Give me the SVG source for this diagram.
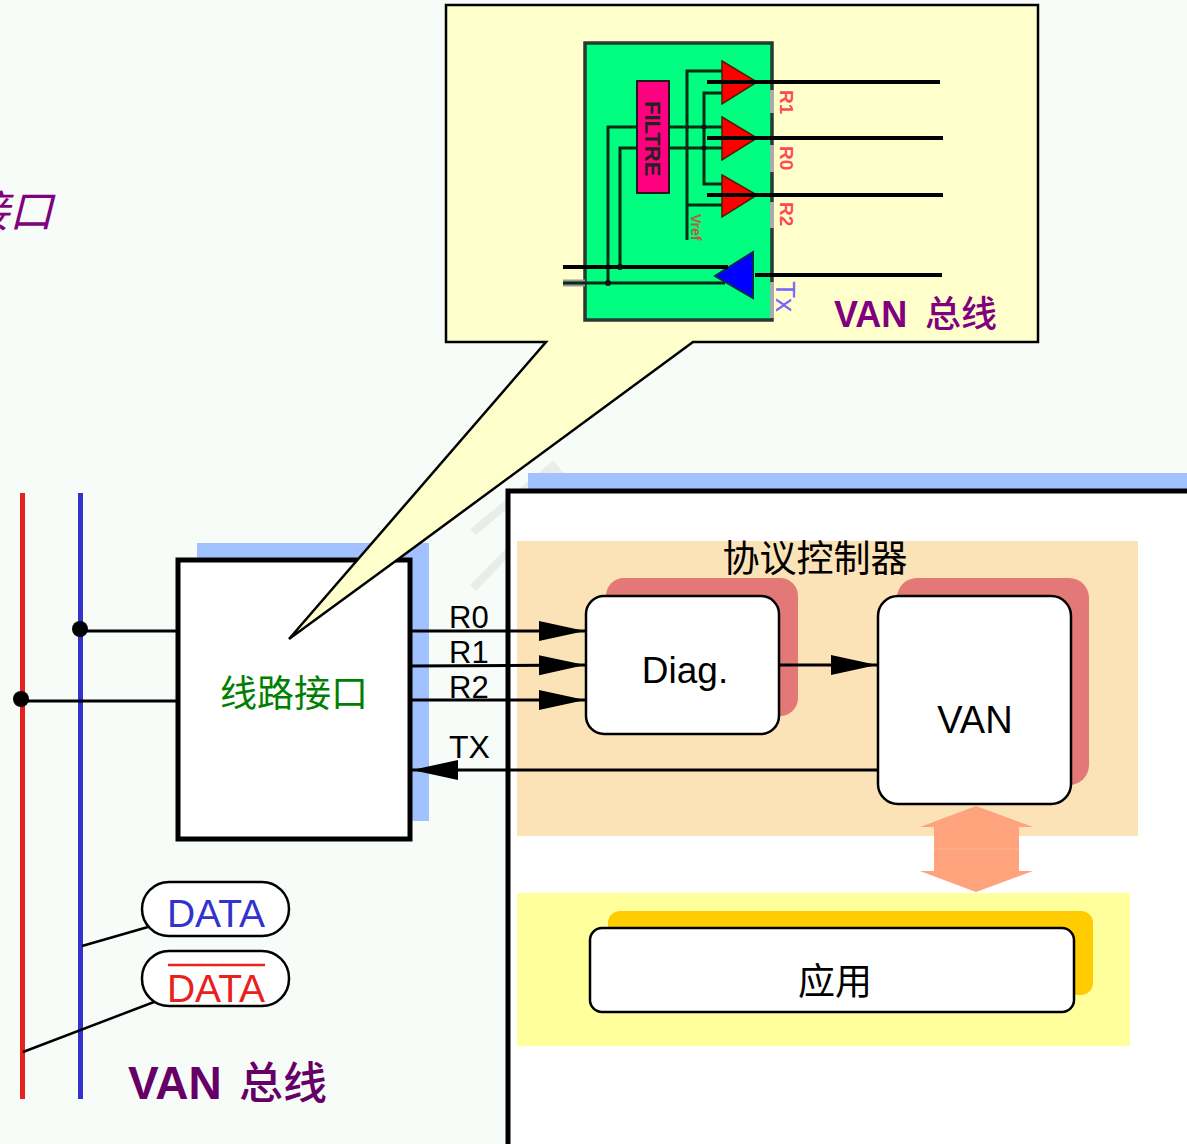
<svg xmlns="http://www.w3.org/2000/svg" width="1187" height="1144" viewBox="0 0 1187 1144">
<style>
.cn{font-family:"Liberation Sans","Noto Sans CJK SC",sans-serif}
.l{stroke:#000;fill:none}
.box{fill:#fff;stroke:#000;stroke-width:2.5}
.g{stroke:#0a2a12;stroke-width:3;fill:none}
.k{stroke:#000;stroke-width:4;fill:none}
.tag{fill:#ff4a55;font-size:19px;font-weight:bold}
.sig{font-size:31px}
</style>
<defs>
<marker id="ah" markerUnits="userSpaceOnUse" markerWidth="48" markerHeight="22" refX="46" refY="10" orient="auto"><path d="M0 0L46 10L0 20Z" fill="#000"/></marker>
</defs>
<rect width="1187" height="1144" fill="#f7fcf9"/>
<g id="watermark" fill="none" stroke="#e8edea" stroke-width="8">
<path d="M473 532L553 466L583 505"/><path d="M473 588L512 548"/>
</g>
<g id="bus">
<line x1="22.5" y1="493" x2="22.5" y2="1099" stroke="#e8211d" stroke-width="5"/>
<line x1="80.5" y1="493" x2="80.5" y2="1099" stroke="#3333cc" stroke-width="5"/>
</g>
<text id="clipped-label" class="cn" x="-35" y="227" font-size="44" font-style="italic" fill="#800080">接口</text>
<g id="line-interface">
<rect x="197" y="543" width="232" height="278" fill="#a2c1ff"/>
<rect x="178" y="560" width="232" height="279" fill="#fff" stroke="#000" stroke-width="5"/>
<text class="cn" x="294" y="707" font-size="37" fill="#008000" text-anchor="middle">线路接口</text>
</g>
<g id="controller-frame">
<rect x="528" y="473" width="659" height="30" fill="#a2c1ff"/>
<rect x="508" y="491" width="690" height="670" fill="#fff" stroke="#000" stroke-width="5"/>
</g>
<g id="protocol-controller">
<rect x="517" y="541" width="621" height="295" fill="#fbe2b7"/>
<text class="cn" x="815" y="572" font-size="37" fill="#000" text-anchor="middle">协议控制器</text>
</g>
<g id="diag">
<rect x="606" y="578" width="192" height="138" rx="18" fill="#e37878"/>
<rect x="586" y="596" width="193" height="138" rx="18" class="box"/>
<text class="cn" x="685" y="683" font-size="37" text-anchor="middle">Diag.</text>
</g>
<g id="van">
<rect x="897" y="578" width="192" height="207" rx="20" fill="#e37878"/>
<rect x="878" y="596" width="193" height="208" rx="20" class="box"/>
<text class="cn" x="975" y="733" font-size="38" text-anchor="middle">VAN</text>
</g>
<g id="double-arrow">
<path d="M976 806L1033 827H1019V871H1033L976 892L920 871H934V827H920Z" fill="#ffa37c"/>
<line x1="934" y1="849" x2="1019" y2="849" stroke="#ffb598" stroke-width="1"/>
</g>
<g id="application">
<rect x="517" y="893" width="613" height="153" fill="#ffff9c"/>
<rect x="608" y="911" width="485" height="84" rx="12" fill="#ffcc00"/>
<rect x="590" y="928" width="484" height="84" rx="12" class="box"/>
<text class="cn" x="835" y="995" font-size="37" text-anchor="middle">应用</text>
</g>
<g id="callout">
<path d="M446 5H1038V342H693L397 560L289 639L546 342H446Z" fill="#ffffcc" stroke="#000" stroke-width="2.5"/>
<text class="cn" x="834" y="327" font-size="36" font-weight="bold" fill="#800080">VAN<tspan x="925" font-size="36" font-weight="500">总线</tspan></text>
</g>
<g id="receiver-block">
<rect x="585" y="43" width="187" height="277" fill="#00ff80" stroke="#2a3a30" stroke-width="3.5"/>
<rect x="637" y="81" width="32" height="112" fill="#ff0080" stroke="#1a1a1a" stroke-width="2"/>
<text class="cn" transform="translate(645,101) rotate(90)" font-size="22" font-weight="bold" fill="#222">FILTRE</text>
<path class="g" d="M722 71H687V240"/>
<path class="g" d="M722 93H704V184H722"/>
<path class="g" d="M722 205H687"/>
<path class="g" d="M637 127H608V282"/>
<path class="g" d="M637 148H620V267"/>
<path class="g" d="M669 127H722M669 148H722"/>
<path d="M722 61L757 82L722 104Z" fill="#ff0000" stroke="#5a1a00" stroke-width="1.5"/>
<path d="M722 117L757 138L722 160Z" fill="#ff0000" stroke="#5a1a00" stroke-width="1.5"/>
<path d="M722 175L757 195L722 217Z" fill="#ff0000" stroke="#5a1a00" stroke-width="1.5"/>
<path d="M753 252V298L715 276Z" fill="#0000ff" stroke="#0a2a50" stroke-width="2"/>
<path class="k" d="M707 82H940M707 138H943M707 195H943M755 275H942"/>
<path class="k" d="M563 267H728"/>
<path d="M563 283H585" stroke="#999" stroke-width="7" fill="none"/>
<path class="g" d="M563 283H725"/>
<circle cx="608" cy="283" r="3" fill="#111"/>
<circle cx="620" cy="267" r="3" fill="#111"/>
<circle cx="704" cy="127" r="2.5" fill="#111"/>
<circle cx="704" cy="148" r="2.5" fill="#111"/>
<path d="M772 90V113M772 145V172M772 202V228M772 282V318" stroke="#aaa" stroke-width="4"/>
<text class="cn tag" transform="translate(780,90) rotate(90)">R1</text>
<text class="cn tag" transform="translate(780,146) rotate(90)">R0</text>
<text class="cn tag" transform="translate(780,202) rotate(90)">R2</text>
<text class="cn" transform="translate(776,281) rotate(90)" font-size="28" fill="#7a66ff">Tx</text>
<text class="cn" transform="translate(691,214) rotate(90)" font-size="14" font-weight="bold" fill="#b0603a">Vref</text>
</g>
<g id="connectors">
<circle cx="80" cy="629" r="8" fill="#000"/>
<circle cx="21" cy="699" r="8" fill="#000"/>
<line class="l" stroke-width="3" x1="80" y1="631" x2="178" y2="631"/>
<line class="l" stroke-width="3" x1="21" y1="701" x2="178" y2="701"/>
<line class="l" stroke-width="3" x1="410" y1="631" x2="585" y2="631" marker-end="url(#ah)"/>
<line class="l" stroke-width="3" x1="410" y1="666" x2="585" y2="665" marker-end="url(#ah)"/>
<line class="l" stroke-width="3" x1="410" y1="700" x2="585" y2="700" marker-end="url(#ah)"/>
<line class="l" stroke-width="3" x1="779" y1="665" x2="877" y2="665" marker-end="url(#ah)"/>
<line class="l" stroke-width="3" x1="878" y1="770" x2="412" y2="770" marker-end="url(#ah)"/>
<line class="l" stroke-width="2.5" x1="82" y1="946" x2="148" y2="927"/>
<line class="l" stroke-width="2.5" x1="23" y1="1052" x2="154" y2="1002"/>
</g>
<g id="signal-labels">
<text class="cn sig" x="449" y="628">R0</text>
<text class="cn sig" x="449" y="663">R1</text>
<text class="cn sig" x="449" y="698">R2</text>
<text class="cn sig" x="449" y="758" style="font-size:32px">TX</text>
</g>
<g id="data-tag">
<rect x="142" y="882" width="147" height="54" rx="27" class="box"/>
<text class="cn" x="216" y="927" font-size="39" fill="#3333cc" text-anchor="middle">DATA</text>
</g>
<g id="data-bar-tag">
<rect x="142" y="951" width="147" height="55" rx="27" class="box"/>
<line x1="168" y1="965" x2="265" y2="965" stroke="#e8211d" stroke-width="2.5"/>
<text class="cn" x="216" y="1002" font-size="39" fill="#e8211d" text-anchor="middle">DATA</text>
</g>
<text id="bus-label" class="cn" x="128" y="1099" font-size="46" font-weight="bold" fill="#660066">VAN<tspan x="239" font-size="44" font-weight="500">总线</tspan></text>
</svg>
